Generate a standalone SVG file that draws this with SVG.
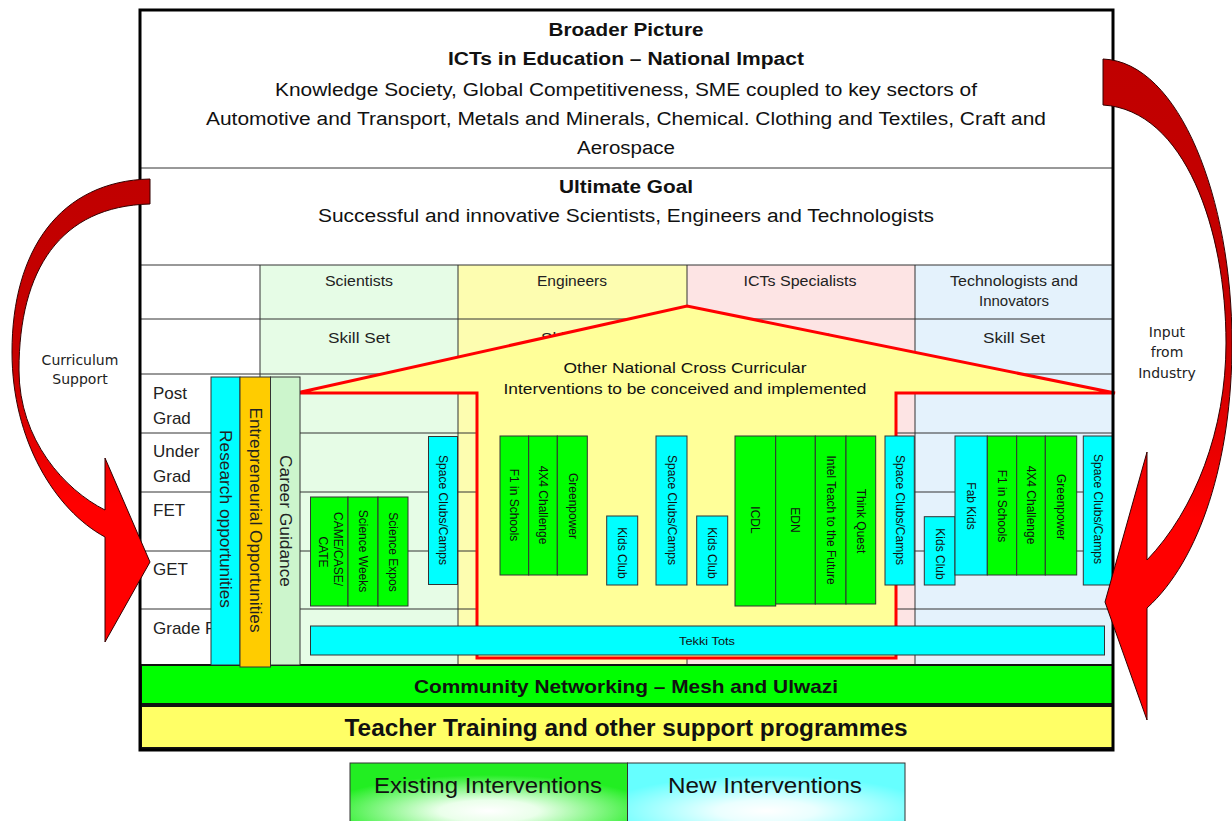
<svg xmlns="http://www.w3.org/2000/svg" width="1232" height="821" viewBox="0 0 1232 821">
<style>
text{font-family:"Liberation Sans",Arial,sans-serif;fill:#111}
.hd{font-size:18px;text-anchor:middle}
.b{font-weight:bold}
.th{font-size:14px;text-anchor:middle;fill:#222}
.rl{font-size:17px;fill:#222}
.ln{stroke:#333;stroke-width:1;fill:none}
.bx{stroke:#333;stroke-width:1}
.g{fill:#00ff00}
.c{fill:#00ffff}
.vt{font-size:12px;text-anchor:middle;dominant-baseline:central}
.vb{font-size:16px;text-anchor:middle;dominant-baseline:central;fill:#222}
.arr{stroke:#300;stroke-width:1}
.al{font-family:"DejaVu Sans",Verdana,sans-serif;font-size:14px;text-anchor:middle;fill:#222}
.lg{font-size:22px;text-anchor:middle}
</style>
<defs>
<linearGradient id="redg" x1="0" y1="0" x2="0" y2="1">
<stop offset="0" stop-color="#c00000"/>
<stop offset="0.42" stop-color="#c80000"/>
<stop offset="0.7" stop-color="#ff0000"/>
<stop offset="1" stop-color="#ff0000"/>
</linearGradient>
<radialGradient id="lgG" cx="0.5" cy="0.8" r="0.6">
<stop offset="0" stop-color="#ffffff"/>
<stop offset="0.3" stop-color="#eaffea"/>
<stop offset="1" stop-color="#22ee22"/>
</radialGradient>
<radialGradient id="lgC" cx="0.5" cy="0.8" r="0.6">
<stop offset="0" stop-color="#ffffff"/>
<stop offset="0.3" stop-color="#eaffff"/>
<stop offset="1" stop-color="#66ffff"/>
</radialGradient>
</defs>
<rect x="0" y="0" width="1232" height="821" fill="#ffffff"/>

<g id="header">
<rect x="140" y="10" width="973" height="255" fill="#ffffff"/>
<text class="hd b" x="626" y="36" textLength="155" lengthAdjust="spacingAndGlyphs">Broader Picture</text>
<text class="hd b" x="626" y="65" textLength="356" lengthAdjust="spacingAndGlyphs">ICTs in Education – National Impact</text>
<text class="hd" x="626" y="96" textLength="702" lengthAdjust="spacingAndGlyphs">Knowledge Society, Global Competitiveness, SME coupled to key sectors of</text>
<text class="hd" x="626" y="125" textLength="840" lengthAdjust="spacingAndGlyphs">Automotive and Transport, Metals and Minerals, Chemical. Clothing and Textiles, Craft and</text>
<text class="hd" x="626" y="154" textLength="98" lengthAdjust="spacingAndGlyphs">Aerospace</text>
<line class="ln" x1="140" y1="168" x2="1113" y2="168" stroke-width="1.5"/>
<text class="hd b" x="626" y="193" textLength="134" lengthAdjust="spacingAndGlyphs">Ultimate Goal</text>
<text class="hd" x="626" y="222" textLength="616" lengthAdjust="spacingAndGlyphs">Successful and innovative Scientists, Engineers and Technologists</text>
</g>

<g id="table">
<rect x="140" y="265" width="120" height="400" fill="#ffffff"/>
<rect x="260" y="265" width="198" height="400" fill="#e6fce6"/>
<rect x="458" y="265" width="229" height="400" fill="#fdfdb0"/>
<rect x="687" y="265" width="228" height="400" fill="#fde4e4"/>
<rect x="915" y="265" width="198" height="400" fill="#e4f2fc"/>
<line class="ln" x1="140" y1="265" x2="1113" y2="265" stroke-width="1.5"/>
<line class="ln" x1="140" y1="319" x2="1113" y2="319"/>
<line class="ln" x1="140" y1="374" x2="1113" y2="374"/>
<line class="ln" x1="140" y1="433" x2="1113" y2="433"/>
<line class="ln" x1="140" y1="492" x2="1113" y2="492"/>
<line class="ln" x1="140" y1="551" x2="1113" y2="551"/>
<line class="ln" x1="140" y1="609" x2="1113" y2="609"/>
<line class="ln" x1="260" y1="265" x2="260" y2="665"/>
<line class="ln" x1="458" y1="265" x2="458" y2="665"/>
<line class="ln" x1="687" y1="265" x2="687" y2="665"/>
<line class="ln" x1="915" y1="265" x2="915" y2="665"/>
<text class="th" x="359" y="286" textLength="68" lengthAdjust="spacingAndGlyphs">Scientists</text>
<text class="th" x="572" y="286" textLength="70" lengthAdjust="spacingAndGlyphs">Engineers</text>
<text class="th" x="800" y="286" textLength="113" lengthAdjust="spacingAndGlyphs">ICTs Specialists</text>
<text class="th" x="1014" y="286" textLength="128" lengthAdjust="spacingAndGlyphs">Technologists and</text>
<text class="th" x="1014" y="306" textLength="70" lengthAdjust="spacingAndGlyphs">Innovators</text>
<text class="th" x="359" y="343" font-size="15" textLength="62" lengthAdjust="spacingAndGlyphs">Skill Set</text>
<text class="th" x="572" y="343" font-size="15" textLength="62" lengthAdjust="spacingAndGlyphs">Skill Set</text>
<text class="th" x="800" y="343" font-size="15" textLength="62" lengthAdjust="spacingAndGlyphs">Skill Set</text>
<text class="th" x="1014" y="343" font-size="15" textLength="62" lengthAdjust="spacingAndGlyphs">Skill Set</text>
<text class="rl" x="153" y="399">Post</text>
<text class="rl" x="153" y="424">Grad</text>
<text class="rl" x="153" y="457">Under</text>
<text class="rl" x="153" y="482">Grad</text>
<text class="rl" x="153" y="516">FET</text>
<text class="rl" x="153" y="575">GET</text>
<text class="rl" x="153" y="634">Grade R</text>
</g>

<g id="house">
<polygon points="301,392 687,306 1115,393 896,393 896,658 477,658 477,393 301,393" fill="#ffff99" stroke="#ff0000" stroke-width="3" stroke-linejoin="miter"/>
<text x="685" y="373" font-size="15" text-anchor="middle" fill="#222" textLength="243" lengthAdjust="spacingAndGlyphs">Other National Cross Curricular</text>
<text x="685" y="394" font-size="15" text-anchor="middle" fill="#222" textLength="363" lengthAdjust="spacingAndGlyphs">Interventions to be conceived and implemented</text>
</g>

<g id="scientists-boxes">
<rect class="bx g" x="310.5" y="497" width="37.5" height="109"/>
<text class="vt" transform="translate(338,549) rotate(90)">CAME/CASE/</text>
<text class="vt" transform="translate(323,552) rotate(90)">CATE</text>
<rect class="bx g" x="348" y="497" width="30" height="109"/>
<text class="vt" transform="translate(363,551) rotate(90)">Science Weeks</text>
<rect class="bx g" x="378" y="497" width="30" height="109"/>
<text class="vt" transform="translate(393,552) rotate(90)">Science Expos</text>
<rect class="bx c" x="428.5" y="436.5" width="29" height="148"/>
<text class="vt" transform="translate(443,510) rotate(90)" textLength="110" lengthAdjust="spacingAndGlyphs">Space Clubs/Camps</text>
</g>

<g id="engineers-boxes">
<rect class="bx g" x="500" y="436" width="28.7" height="139"/>
<text class="vt" transform="translate(514,505) rotate(90)">F1 in Schools</text>
<rect class="bx g" x="528.7" y="436" width="28.6" height="139"/>
<text class="vt" transform="translate(543,505) rotate(90)">4X4 Challenge</text>
<rect class="bx g" x="557.3" y="436" width="30" height="139"/>
<text class="vt" transform="translate(572.5,506) rotate(90)">Greenpower</text>
<rect class="bx c" x="606.7" y="516" width="31" height="69"/>
<text class="vt" transform="translate(622,553) rotate(90)">Kids Club</text>
<rect class="bx c" x="656" y="436" width="31" height="149"/>
<text class="vt" transform="translate(671.5,510) rotate(90)" textLength="110" lengthAdjust="spacingAndGlyphs">Space Clubs/Camps</text>
<rect class="bx c" x="696.7" y="516" width="31" height="69"/>
<text class="vt" transform="translate(712,553) rotate(90)">Kids Club</text>
</g>

<g id="ict-boxes">
<rect class="bx g" x="735" y="436" width="40.7" height="170"/>
<text class="vt" transform="translate(755,520) rotate(90)">ICDL</text>
<rect class="bx g" x="775.7" y="436" width="39.6" height="168"/>
<text class="vt" transform="translate(795,520) rotate(90)">EDN</text>
<rect class="bx g" x="815.3" y="436" width="30.7" height="168"/>
<text class="vt" transform="translate(830.5,520) rotate(90)">Intel Teach to the Future</text>
<rect class="bx g" x="846" y="436" width="29.7" height="168"/>
<text class="vt" transform="translate(861,521) rotate(90)">Think Quest</text>
<rect class="bx c" x="885" y="436" width="29.3" height="149"/>
<text class="vt" transform="translate(899.5,510) rotate(90)" textLength="110" lengthAdjust="spacingAndGlyphs">Space Clubs/Camps</text>
</g>

<g id="technologists-boxes">
<rect class="bx c" x="924.3" y="516.7" width="30.7" height="68.3"/>
<text class="vt" transform="translate(940,554) rotate(90)">Kids Club</text>
<rect class="bx c" x="955" y="436" width="32.3" height="139"/>
<text class="vt" transform="translate(971,506) rotate(90)">Fab Kids</text>
<rect class="bx g" x="987.3" y="436" width="29.4" height="139"/>
<text class="vt" transform="translate(1002,506) rotate(90)">F1 in Schools</text>
<rect class="bx g" x="1016.7" y="436" width="28.6" height="139"/>
<text class="vt" transform="translate(1031,505) rotate(90)">4X4 Challenge</text>
<rect class="bx g" x="1045.3" y="436" width="31.4" height="139"/>
<text class="vt" transform="translate(1061,507) rotate(90)">Greenpower</text>
<rect class="bx c" x="1083.3" y="436" width="30" height="149"/>
<text class="vt" transform="translate(1098,509) rotate(90)" textLength="110" lengthAdjust="spacingAndGlyphs">Space Clubs/Camps</text>
</g>

<g id="tekki-tots">
<rect class="bx c" x="310.5" y="626" width="794" height="29"/>
<text x="707" y="641" font-size="11" text-anchor="middle" dominant-baseline="central" textLength="56" lengthAdjust="spacingAndGlyphs">Tekki Tots</text>
</g>

<g id="community-networking">
<rect x="141" y="665" width="972" height="39" fill="#00ff00" stroke="#111" stroke-width="2"/>
<text x="626" y="693" font-size="19" font-weight="bold" text-anchor="middle" textLength="424" lengthAdjust="spacingAndGlyphs">Community Networking – Mesh and Ulwazi</text>
</g>

<g id="teacher-training">
<rect x="141" y="706" width="972" height="42" fill="#ffff66" stroke="#111" stroke-width="2"/>
<text x="626" y="736" font-size="23" font-weight="bold" text-anchor="middle" textLength="563" lengthAdjust="spacingAndGlyphs">Teacher Training and other support programmes</text>
</g>

<g id="research-opportunities">
<rect class="bx c" x="211" y="377" width="29" height="288"/>
<text class="vb" transform="translate(225.5,519) rotate(90)" textLength="178" lengthAdjust="spacingAndGlyphs">Research opportunities</text>
</g>
<g id="entrepreneurial-opportunities">
<rect class="bx" x="240" y="377" width="30.5" height="290" fill="#ffcc00"/>
<text class="vb" transform="translate(255.5,520) rotate(90)" textLength="225" lengthAdjust="spacingAndGlyphs">Entrepreneurial Opportunities</text>
</g>
<g id="career-guidance">
<rect class="bx" x="270.5" y="377" width="29.5" height="288" fill="#ccf5cc"/>
<text class="vb" transform="translate(285.5,521) rotate(90)" textLength="132" lengthAdjust="spacingAndGlyphs">Career Guidance</text>
</g>

<rect id="frame" x="140" y="10" width="973" height="740" fill="none" stroke="#000" stroke-width="3"/>

<g id="connectors">
<path class="arr" fill="url(#redg)" d="M150,179 C60,181 12,250 12,352 C12,440 55,510 105,537 L105,642 L150,562 L105,458 L105,510 C65,490 19,440 19,370 C19,270 60,206 150,204 Z"/>
<path class="arr" fill="url(#redg)" d="M1103,59 C1180,62 1232,200 1232,343 C1232,460 1200,560 1147,608 L1147,720 L1105,602 L1147,452 L1147,560 C1195,510 1226,430 1226,343 C1226,230 1185,110 1103,105 Z"/>
</g>

<g id="label-curriculum-support">
<text class="al" x="80" y="365">Curriculum</text>
<text class="al" x="80" y="384">Support</text>
</g>
<g id="label-input-from-industry">
<text class="al" x="1167" y="337">Input</text>
<text class="al" x="1167" y="357">from</text>
<text class="al" x="1167" y="378">Industry</text>
</g>

<g id="legend">
<rect x="350" y="763" width="277.5" height="60" fill="url(#lgG)" stroke="#333" stroke-width="1"/>
<rect x="627.5" y="763" width="277.5" height="60" fill="url(#lgC)" stroke="#333" stroke-width="1"/>
<text class="lg" x="488" y="793" textLength="228" lengthAdjust="spacingAndGlyphs">Existing Interventions</text>
<text class="lg" x="765" y="793" textLength="194" lengthAdjust="spacingAndGlyphs">New Interventions</text>
</g>
</svg>
